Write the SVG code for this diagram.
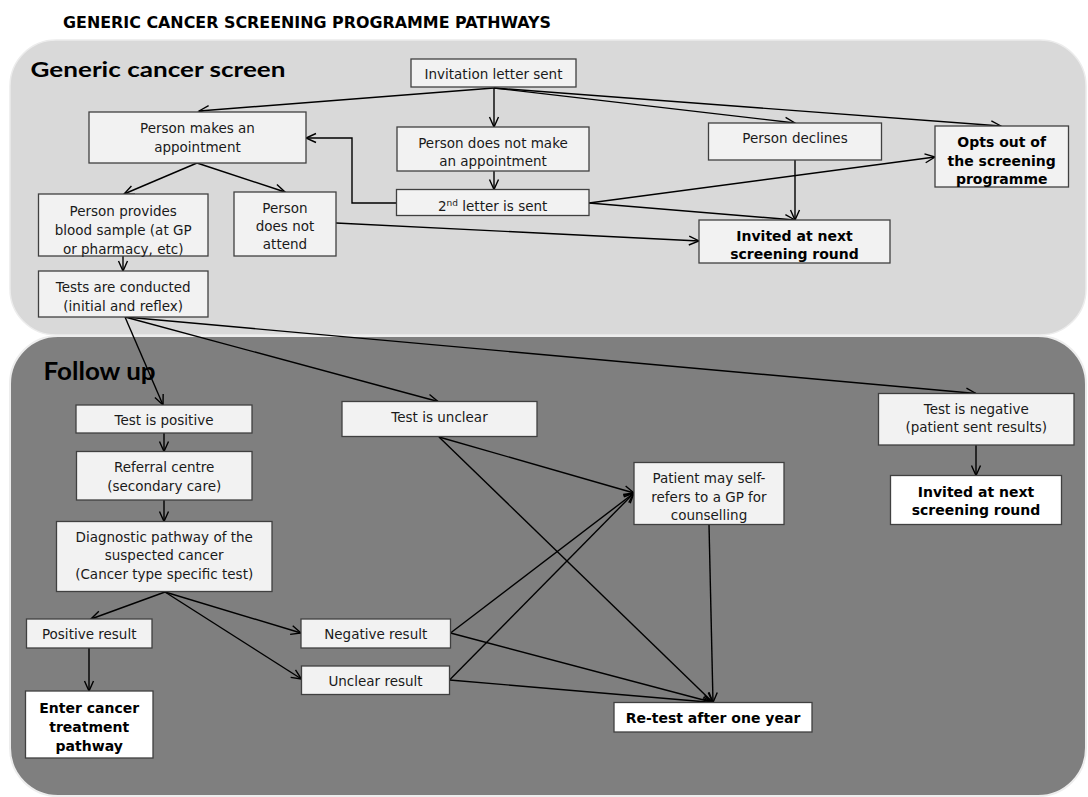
<svg xmlns="http://www.w3.org/2000/svg" width="1088" height="797" viewBox="0 0 1088 797">
<defs>
<marker id="ah" viewBox="0 0 10 10" refX="10" refY="5" markerWidth="10" markerHeight="11" markerUnits="userSpaceOnUse" orient="auto" overflow="visible">
<path d="M0,0.5 L10,5 L0,9.5" fill="none" stroke="#000" stroke-width="1.4"/>
</marker>
</defs>
<style>
.bx{fill:#f2f2f2;stroke:#404040;stroke-width:1.3}
.wb{fill:#ffffff;stroke:#404040;stroke-width:1.3}
.t{font-family:"DejaVu Sans",sans-serif;font-size:13.5px;fill:#1a1a1a;text-anchor:middle}
.b{font-family:"DejaVu Sans",sans-serif;font-size:14px;font-weight:bold;fill:#000;text-anchor:middle}
.h{font-family:Lato,"Open Sans",sans-serif;font-weight:bold;fill:#000}
.c line,.c polyline{stroke:#000;stroke-width:1.4;fill:none;marker-end:url(#ah)}
</style>
<rect width="1088" height="797" fill="#ffffff"/>
<text x="63" y="28" font-family="DejaVu Sans,sans-serif" font-weight="bold" font-size="15.5" textLength="488" lengthAdjust="spacingAndGlyphs" fill="#000">GENERIC CANCER SCREENING PROGRAMME PATHWAYS</text>
<g id="panel-screen">
<rect x="10" y="40" width="1076" height="295" rx="46" fill="#d9d9d9" stroke="#ececec" stroke-width="1.5"/>
<text class="h" x="30.5" y="77" font-size="21" textLength="255" lengthAdjust="spacingAndGlyphs">Generic cancer screen</text>
</g>
<g id="panel-followup">
<rect x="10" y="336" width="1076" height="460" rx="48" fill="#7f7f7f" stroke="#ededed" stroke-width="2"/>
<text class="h" x="43.6" y="380" font-size="24.5" textLength="112" lengthAdjust="spacingAndGlyphs">Follow up</text>
</g>
<g id="connectors" class="c">
<line x1="494" y1="88" x2="199" y2="111"/>
<line x1="494" y1="88" x2="494" y2="127"/>
<line x1="494" y1="88" x2="795" y2="123"/>
<line x1="494" y1="88" x2="1001" y2="126"/>
<line x1="197" y1="163" x2="124" y2="194"/>
<line x1="197" y1="163" x2="285" y2="192"/>
<line x1="494" y1="171" x2="494" y2="189.5"/>
<polyline points="396.5,203 352,203 352,138 306,138"/>
<line x1="589" y1="203" x2="935" y2="157"/>
<line x1="589" y1="203" x2="795" y2="220"/>
<line x1="795" y1="160" x2="795" y2="220"/>
<line x1="336" y1="223" x2="699" y2="241"/>
<line x1="123" y1="256" x2="123" y2="271"/>
<line x1="125" y1="317" x2="163" y2="405"/>
<line x1="125" y1="317" x2="438" y2="401.5"/>
<line x1="125" y1="317" x2="976" y2="393.5"/>
<line x1="164" y1="433" x2="164" y2="451.5"/>
<line x1="164" y1="500" x2="164" y2="521.5"/>
<line x1="976" y1="445" x2="976" y2="475.5"/>
<line x1="165" y1="592" x2="91" y2="619"/>
<line x1="165" y1="592" x2="301" y2="633"/>
<line x1="165" y1="592" x2="301.5" y2="679"/>
<line x1="89" y1="648" x2="89" y2="691"/>
<line x1="439" y1="437" x2="634" y2="493"/>
<line x1="439" y1="437" x2="713" y2="702.5"/>
<line x1="450.5" y1="633" x2="634" y2="493"/>
<line x1="449.5" y1="680" x2="634" y2="493"/>
<line x1="450.5" y1="633" x2="713" y2="702.5"/>
<line x1="449.5" y1="680" x2="713" y2="702.5"/>
<line x1="709" y1="524.5" x2="713" y2="702.5"/>
</g>
<g id="n-invitation"><rect class="bx" x="411" y="59" width="165" height="28"/><text class="t" x="493.5" y="79">Invitation letter sent</text></g>
<g id="n-makes"><rect class="bx" x="89" y="112" width="217" height="51"/><text class="t" x="197.5" y="133">Person makes an</text><text class="t" x="197.5" y="152">appointment</text></g>
<g id="n-notmake"><rect class="bx" x="397" y="127" width="192" height="44"/><text class="t" x="493" y="148">Person does not make</text><text class="t" x="493" y="166">an appointment</text></g>
<g id="n-declines"><rect class="bx" x="708.5" y="123" width="173" height="37"/><text class="t" x="795" y="143">Person declines</text></g>
<g id="n-optsout"><rect class="bx" x="935" y="126" width="133.5" height="61"/><text class="b" x="1001.7" y="147">Opts out of</text><text class="b" x="1001.7" y="166">the screening</text><text class="b" x="1001.7" y="184">programme</text></g>
<g id="n-second"><rect class="bx" x="396.5" y="189.5" width="192.5" height="26"/><text class="t" x="492.7" y="211">2<tspan font-size="9" dy="-5">nd</tspan><tspan dy="5"> letter is sent</tspan></text></g>
<g id="n-provides"><rect class="bx" x="38.5" y="194" width="169.5" height="62"/><text class="t" x="123.2" y="216">Person provides</text><text class="t" x="123.2" y="235">blood sample (at GP</text><text class="t" x="123.2" y="254">or pharmacy, etc)</text></g>
<g id="n-notattend"><rect class="bx" x="234" y="192" width="102" height="64"/><text class="t" x="285" y="213">Person</text><text class="t" x="285" y="231">does not</text><text class="t" x="285" y="249">attend</text></g>
<g id="n-invited1"><rect class="bx" x="699" y="220" width="191" height="43"/><text class="b" x="794.5" y="241">Invited at next</text><text class="b" x="794.5" y="259">screening round</text></g>
<g id="n-tests"><rect class="bx" x="38.5" y="271" width="169.5" height="46"/><text class="t" x="123.2" y="292">Tests are conducted</text><text class="t" x="123.2" y="311">(initial and reflex)</text></g>
<g id="n-positive"><rect class="bx" x="76" y="405" width="176" height="28"/><text class="t" x="164" y="425">Test is positive</text></g>
<g id="n-unclear"><rect class="bx" x="342" y="401.5" width="195" height="35"/><text class="t" x="439.5" y="422">Test is unclear</text></g>
<g id="n-negative"><rect class="bx" x="878.5" y="393.5" width="195.5" height="51.5"/><text class="t" x="976.2" y="414">Test is negative</text><text class="t" x="976.2" y="432">(patient sent results)</text></g>
<g id="n-referral"><rect class="bx" x="76.5" y="451.5" width="175.5" height="48.5"/><text class="t" x="164.2" y="472">Referral centre</text><text class="t" x="164.2" y="491">(secondary care)</text></g>
<g id="n-diagnostic"><rect class="bx" x="56.5" y="521.5" width="215.5" height="70"/><text class="t" x="164.2" y="542">Diagnostic pathway of the</text><text class="t" x="164.2" y="560">suspected cancer</text><text class="t" x="164.2" y="579">(Cancer type specific test)</text></g>
<g id="n-patient"><rect class="bx" x="634" y="462.5" width="150" height="62"/><text class="t" x="709" y="483">Patient may self-</text><text class="t" x="709" y="502">refers to a GP for</text><text class="t" x="709" y="520">counselling</text></g>
<g id="n-invited2"><rect class="wb" x="890.5" y="475.5" width="171" height="49"/><text class="b" x="976" y="497">Invited at next</text><text class="b" x="976" y="515">screening round</text></g>
<g id="n-posresult"><rect class="bx" x="26.5" y="619" width="125.5" height="29"/><text class="t" x="89.2" y="639">Positive result</text></g>
<g id="n-negresult"><rect class="bx" x="301" y="619" width="149.5" height="29"/><text class="t" x="375.7" y="639">Negative result</text></g>
<g id="n-uncresult"><rect class="bx" x="301.5" y="666" width="148" height="28.5"/><text class="t" x="375.5" y="686">Unclear result</text></g>
<g id="n-enter"><rect class="wb" x="25.5" y="691" width="127.5" height="67"/><text class="b" x="89.2" y="713">Enter cancer</text><text class="b" x="89.2" y="732">treatment</text><text class="b" x="89.2" y="751">pathway</text></g>
<g id="n-retest"><rect class="wb" x="614" y="702.5" width="198" height="29.5"/><text class="b" x="713" y="723">Re-test after one year</text></g>
</svg>
